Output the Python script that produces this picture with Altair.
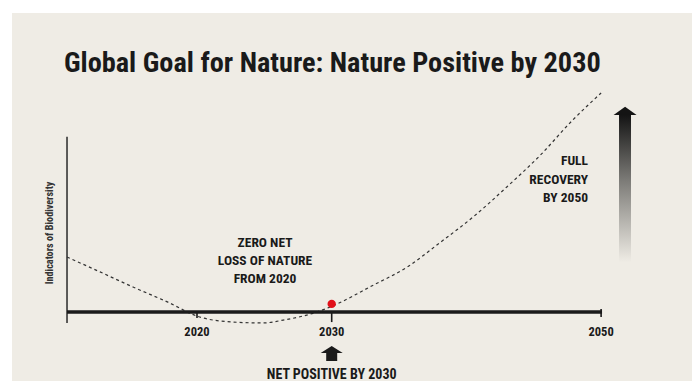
import altair as alt
import pandas as pd

# ---- data ----
curve_year = [2010.35, 2012.8, 2015.25, 2017.8, 2020.2, 2022.7, 2024.9, 2026.4, 2028.9,
              2030.0, 2033.1, 2035.6, 2038.0, 2040.5, 2043.0, 2045.5, 2047.9, 2050.0]
curve_value = [25.1, 18.3, 11.4, 4.6, -2.3, -4.6, -5.0, -3.7, 0.0,
               2.6, 12.3, 20.5, 31.5, 43.4, 57.1, 71.7, 87.7, 100.0]

tick_years = [2020, 2030, 2050]
tick_labels = ["2020", "2030", "2050"]
tick_top = [0.0, 0.0, 1.4]
tick_bottom = [-2.7, -4.6, -2.3]

axis_start, axis_end = 2010.35, 2050.07
yaxis_low, yaxis_high = -5.0, 80.0

dot_year, dot_value = [2030], [3.7]

zero_lines = ["ZERO NET", "LOSS OF NATURE", "FROM 2020"]
zero_year = 2025.05
zero_values = [31.5, 23.3, 15.1]

full_lines = ["FULL", "RECOVERY", "BY 2050"]
full_year = 2049.03
full_values = [69.0, 60.3, 52.1]

title_text = "Global Goal for Nature: Nature Positive by 2030"
ytitle_text = "Indicators of Biodiversity"
bottom_text = "NET POSITIVE BY 2030"

BG = "#efece5"
INK = "#1a1a1a"
FONT = "Roboto Condensed, Roboto, sans-serif"

xs = alt.Scale(domain=[2005.375, 2056.748], nice=False, zero=False)
ys = alt.Scale(domain=[-31.51, 142.47], nice=False, zero=False)

def X(f):
    return alt.X(f, type="quantitative", scale=xs, axis=None)

def Y(f):
    return alt.Y(f, type="quantitative", scale=ys, axis=None)

# background panel
bg = alt.Chart(pd.DataFrame({"a": [0]})).mark_rect(color=BG).encode(
    x=alt.value(12), x2=alt.value(692), y=alt.value(13), y2=alt.value(381))

# title
title = alt.Chart(pd.DataFrame({"t": [title_text]})).mark_text(
    font=FONT, fontWeight="bold", fontSize=28.3, color=INK, align="left", baseline="alphabetic"
).encode(x=alt.value(64), y=alt.value(72), text="t:N")

# y axis line
yaxis = alt.Chart(pd.DataFrame({"x": [axis_start], "y1": [yaxis_low], "y2": [yaxis_high]})).mark_rule(
    color="#2a2a2a", strokeWidth=1.5).encode(x=X("x"), y=Y("y1"), y2="y2")

# x axis thick line
xaxis = alt.Chart(pd.DataFrame({"x1": [axis_start], "x2": [axis_end], "y": [0]})).mark_rule(
    color=INK, strokeWidth=3.5).encode(x=X("x1"), x2="x2", y=Y("y"))

ticks_df = pd.DataFrame({"year": tick_years, "top": tick_top, "bot": tick_bottom, "lab": tick_labels,
                         "ly": [-9.1] * 3})
ticks = alt.Chart(ticks_df).mark_rule(color=INK, strokeWidth=1.6).encode(
    x=X("year"), y=Y("top"), y2="bot")
tick_text = alt.Chart(ticks_df).mark_text(
    font=FONT, fontWeight="bold", fontSize=12.5, color=INK, baseline="middle").encode(
    x=X("year"), y=Y("ly"), text="lab:N")

# dashed curve
curve = alt.Chart(pd.DataFrame({"year": curve_year, "v": curve_value})).mark_line(
    color="#333333", strokeWidth=1.2, strokeDash=[3, 3], interpolate="monotone").encode(
    x=X("year"), y=Y("v"))

# red dot
dot = alt.Chart(pd.DataFrame({"year": dot_year, "v": dot_value})).mark_point(
    filled=True, color="#e2101a", opacity=1, size=70, shape="circle").encode(
    x=X("year"), y=Y("v"))

zero_txt = alt.Chart(pd.DataFrame({"t": zero_lines, "year": [zero_year] * 3, "v": zero_values})).mark_text(
    font=FONT, fontWeight="bold", fontSize=13.5, color=INK, align="center", baseline="middle").encode(
    x=X("year"), y=Y("v"), text="t:N")

full_txt = alt.Chart(pd.DataFrame({"t": full_lines, "year": [full_year] * 3, "v": full_values})).mark_text(
    font=FONT, fontWeight="bold", fontSize=13.5, color=INK, align="right", baseline="middle").encode(
    x=X("year"), y=Y("v"), text="t:N")

ytitle = alt.Chart(pd.DataFrame({"t": [ytitle_text], "year": [2009.1], "v": [36.1]})).mark_text(
    font=FONT, fontWeight="bold", fontSize=10.2, color="#333333", angle=270, align="center",
    baseline="middle").encode(x=X("year"), y=Y("v"), text="t:N")

bottom_txt = alt.Chart(pd.DataFrame({"t": [bottom_text], "year": [2030], "v": [-30.4]})).mark_text(
    font=FONT, fontWeight="bold", fontSize=14, color=INK, align="center", baseline="alphabetic").encode(
    x=X("year"), y=Y("v"), text="t:N")

# bottom solid up arrow
up_arrow = alt.Chart(pd.DataFrame({"year": [2030], "v": [-18.95]})).mark_point(
    filled=True, color=INK, opacity=1, strokeWidth=0, size=484,
    shape="M0,-0.68 L1,-0.05 L0.5,-0.05 L0.5,0.68 L-0.5,0.68 L-0.5,-0.05 L-1,-0.05 Z").encode(
    x=X("year"), y=Y("v"))

# gradient arrow on the right
grad = alt.LinearGradient(
    gradient="linear",
    stops=[alt.GradientStop(offset=0, color="#141414"),
           alt.GradientStop(offset=0.45, color="#7d7c78"),
           alt.GradientStop(offset=1, color=BG)],
    x1=0, x2=0, y1=0, y2=1)
shaft = alt.Chart(pd.DataFrame({"x1": [2051.33], "x2": [2052.22], "y1": [90.0], "y2": [22.8]})).mark_rect(
    color=grad).encode(x=X("x1"), x2="x2", y=Y("y1"), y2="y2")
head = alt.Chart(pd.DataFrame({"year": [2051.78], "v": [91.8]})).mark_point(
    filled=True, color="#141414", opacity=1, strokeWidth=0, size=529,
    shape="M-1,0.36 L0,-0.36 L1,0.36 Z").encode(x=X("year"), y=Y("v"))

chart = alt.layer(
    bg, title, yaxis, curve, xaxis, ticks, tick_text, dot, zero_txt, full_txt, ytitle,
    bottom_txt, up_arrow, shaft, head
).properties(
    width=692, height=381, autosize=alt.AutoSizeParams(type="none"), padding=0, background="white"
).configure_view(stroke=None)

chart.save("out.html", embed_options={"renderer": "svg", "actions": False})
